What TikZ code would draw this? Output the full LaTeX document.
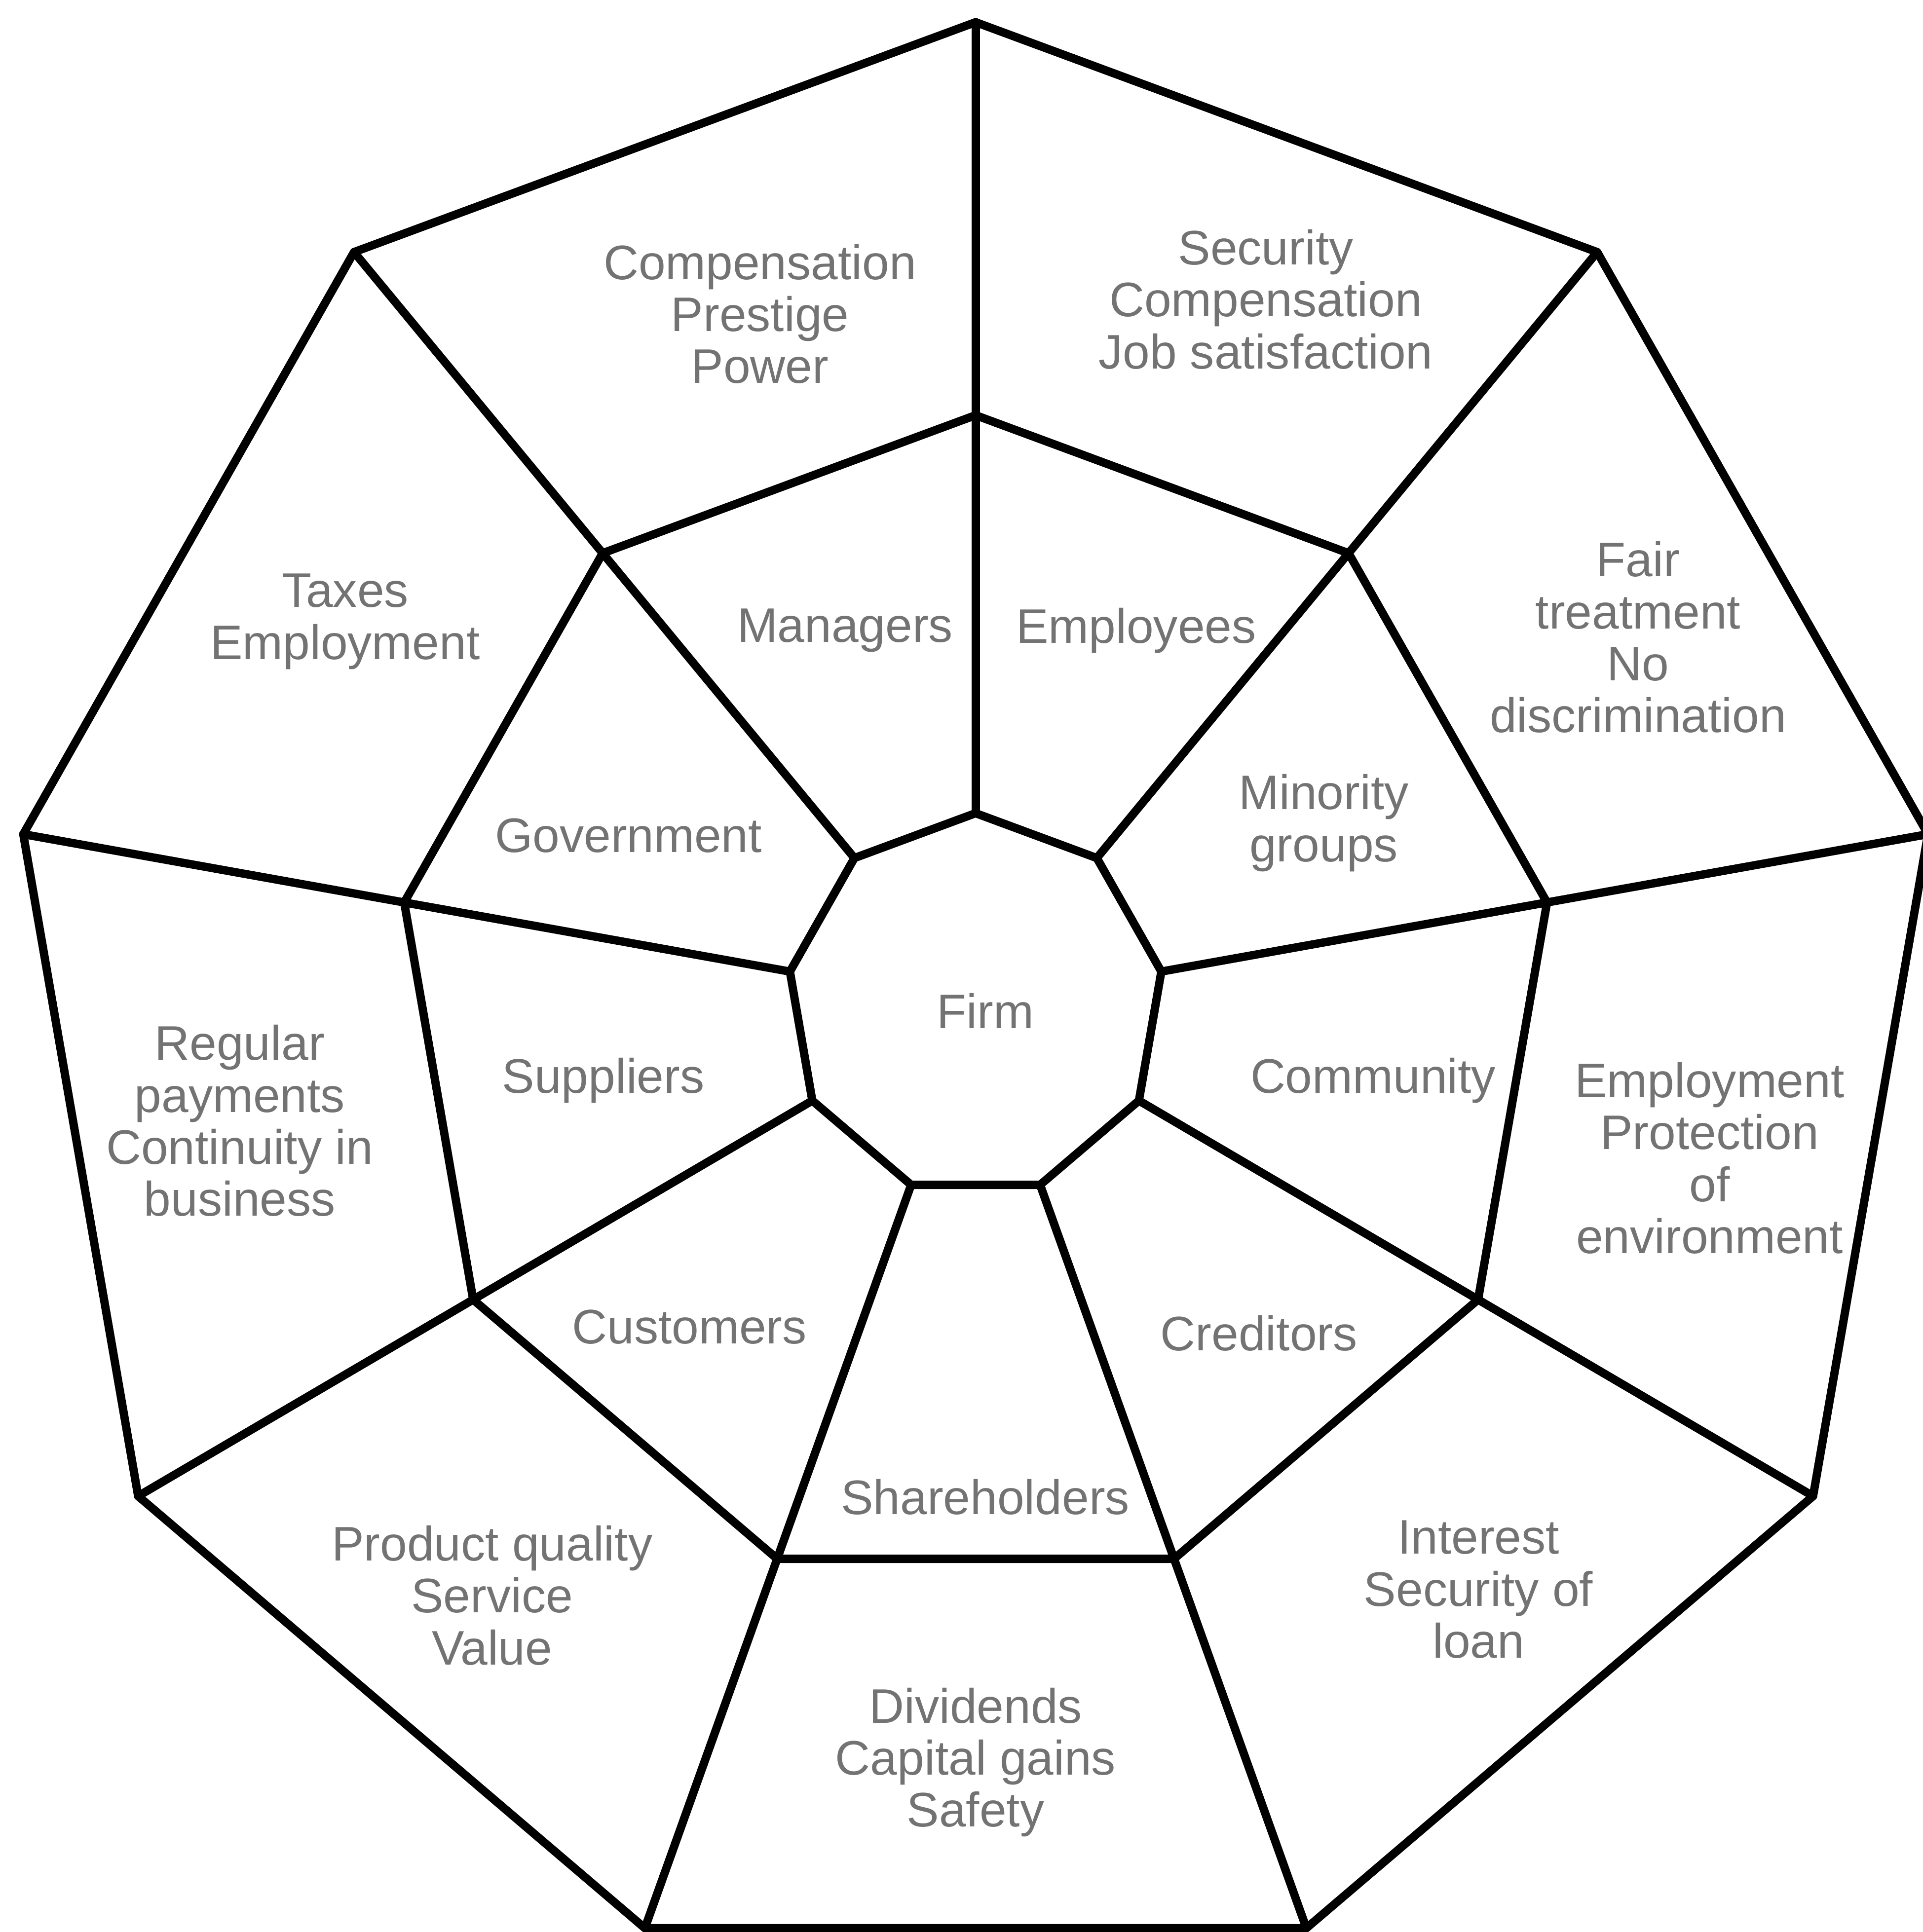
\documentclass[tikz,border=0pt]{standalone}
\usepackage{fontspec}
\setmainfont{Liberation Sans}
\usetikzlibrary{positioning}

\begin{document}
\begin{tikzpicture}[x=9.81cm, y=9.97cm,
  rim/.style={draw, line width=2.4pt, line join=round, line cap=round},
  lbl/.style={text=black!55, align=center, inner sep=0pt, font=\fontsize{14}{15}\selectfont}]
  \useasboundingbox (-1.0089,-0.9436) rectangle (0.9796,1.0226);
  \foreach \k in {1,...,9} {
    \pgfmathsetmacro{\ang}{90-40*(\k-1)}
    \coordinate (o\k) at (\ang:1);
    \coordinate (i\k) at (\ang:0.6);
    \coordinate (c\k) at (\ang:0.195);
  }
  \draw[rim] (o1) -- (o2) -- (o3) -- (o4) -- (o5) -- (o6) -- (o7) -- (o8) -- (o9) -- cycle;
  \draw[rim] (i1) -- (i2) -- (i3) -- (i4) -- (i5) -- (i6) -- (i7) -- (i8) -- (i9) -- cycle;
  \draw[rim] (c1) -- (c2) -- (c3) -- (c4) -- (c5) -- (c6) -- (c7) -- (c8) -- (c9) -- cycle;
  \foreach \k in {1,...,9} \draw[rim] (c\k) -- (o\k);

  \node[lbl] (firm) at (0.01,-0.006) {Firm};
  \node[lbl] (managers) at (-0.135,0.381) {Managers};
  \node[lbl] (employees) at (0.166,0.381) {Employees};
  \node[lbl] (minority) at (0.36,0.185) {Minority\\groups};
  \node[lbl] (community) at (0.411,-0.077) {Community};
  \node[lbl] (creditors) at (0.293,-0.334) {Creditors};
  \node[lbl] (shareholders) at (0.010,-0.501) {Shareholders};
  \node[lbl] (customers) at (-0.296,-0.328) {Customers};
  \node[lbl] (suppliers) at (-0.385,-0.077) {Suppliers};
  \node[lbl] (government) at (-0.359,0.172) {Government};

  \node[lbl] (mgrneeds) at (-0.223,0.703) {Compensation\\Prestige\\Power};
  \node[lbl] (empneeds) at (0.30,0.718) {Security\\Compensation\\Job satisfaction};
  \node[lbl] (minneeds) at (0.685,0.374) {Fair\\treatment\\No\\discrimination};
  \node[lbl] (comneeds) at (0.759,-0.156) {Employment\\Protection\\of\\environment};
  \node[lbl] (crdneeds) at (0.52,-0.595) {Interest\\Security of\\loan};
  \node[lbl] (shrneeds) at (0.0,-0.771) {Dividends\\Capital gains\\Safety};
  \node[lbl] (cusneeds) at (-0.50,-0.601) {Product quality\\Service\\Value};
  \node[lbl] (supneeds) at (-0.761,-0.118) {Regular\\payments\\Continuity in\\business};
  \node[lbl] (govneeds) at (-0.652,0.39) {Taxes\\Employment};
\end{tikzpicture}
\end{document}
